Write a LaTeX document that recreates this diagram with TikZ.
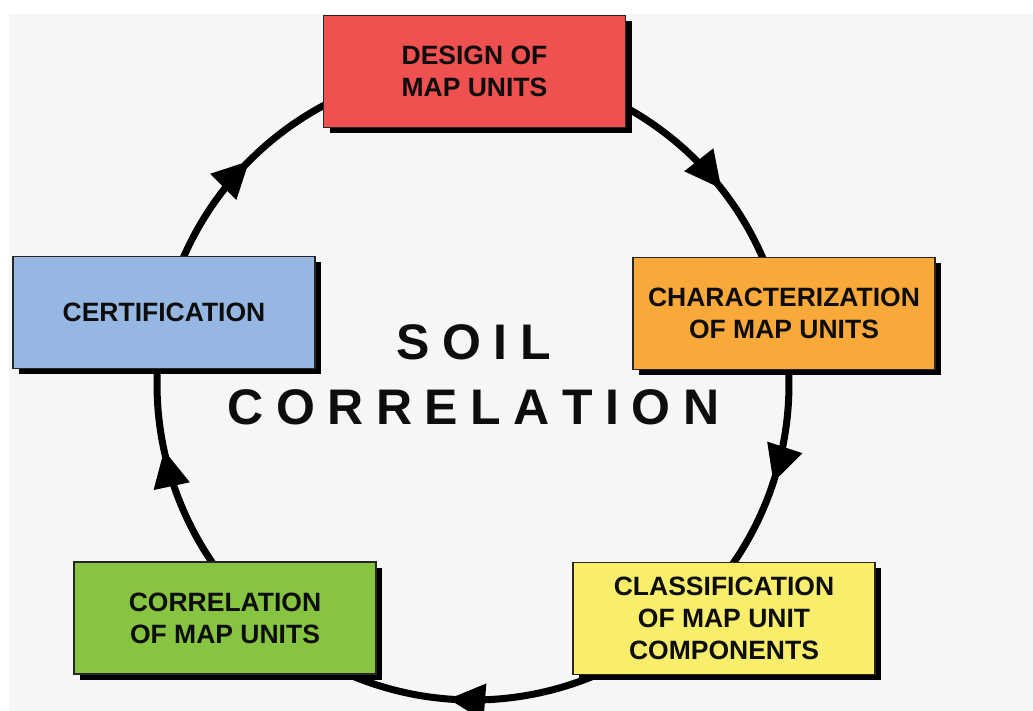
\documentclass[tikz,border=0pt]{standalone}
\usepackage{fontspec}
\setmainfont{Liberation Sans}
\usetikzlibrary{arrows.meta,shadows,decorations.markings}
\definecolor{bggray}{HTML}{F5F6F8}
\definecolor{boxred}{HTML}{EF5151}
\definecolor{boxorange}{HTML}{F9A93A}
\definecolor{boxblue}{HTML}{95B7E1}
\definecolor{boxyellow}{HTML}{F8EE6B}
\definecolor{boxgreen}{HTML}{87C441}
\tikzset{
  stagebox/.style={draw=black!85, line width=1.2pt, minimum width=302pt, minimum height=112pt,
    inner sep=0pt, align=center, text=black!95,
    font=\fontsize{26.5}{32}\selectfont\bfseries,
    general shadow={fill=black, shadow xshift=6pt, shadow yshift=-6pt}},
  cycleline/.style={line width=7pt, black},
  tipmark/.style={postaction={decorate}, decoration={markings,
    mark=at position #1 with {\arrow{Triangle[length=37pt,width=35pt]}}}},
  bigword/.style={anchor=base, font=\fontsize{50}{50}\selectfont\bfseries, text=black!95, inner sep=0pt}
}
\begin{document}
\begin{tikzpicture}[x=1pt,y=1pt]
\useasboundingbox (0,0) rectangle (1033,711);
\fill[white] (0,0) rectangle (1033,711);
\fill[bggray] (9,0) rectangle (1033,697);
\coordinate (c) at (473,327);
\path (c) ++(90:316pt) coordinate (pr)
      (c) ++(12.8:316pt) coordinate (po)
      (c) ++(-43:316pt) coordinate (py)
      (c) ++(223.3:316pt) coordinate (pg)
      (c) ++(167:316pt) coordinate (pb);
\draw[cycleline, tipmark=0.672] (pr) arc[start angle=90, end angle=12.8, radius=316pt];
\draw[cycleline, tipmark=0.555] (po) arc[start angle=12.8, end angle=-43, radius=316pt];
\draw[cycleline, tipmark=0.55] (py) arc[start angle=-43, end angle=-136.7, radius=316pt];
\draw[cycleline, tipmark=0.555] (pg) arc[start angle=223.3, end angle=167, radius=316pt];
\draw[cycleline, tipmark=0.415] (pb) arc[start angle=167, end angle=90, radius=316pt];
\node[stagebox, fill=boxred] (design) at (474.5,639.5) {DESIGN OF\\MAP UNITS};
\node[stagebox, fill=boxorange] (charac) at (784,397.5) {CHARACTERIZATION\\OF MAP UNITS};
\node[stagebox, fill=boxyellow] (classif) at (724,92.5) {CLASSIFICATION\\OF MAP UNIT\\COMPONENTS};
\node[stagebox, fill=boxgreen] (correl) at (225,93) {CORRELATION\\OF MAP UNITS};
\node[stagebox, fill=boxblue] (certif) at (164,398.5) {CERTIFICATION};
\node[bigword] (soil) at (473.5,351) {S\kern12.5pt O\kern12.5pt I\kern12.5pt L};
\node[bigword] (corr) at (473.5,286) {C\kern12.5pt O\kern12.5pt R\kern12.5pt R\kern12.5pt E\kern12.5pt L\kern12.5pt A\kern12.5pt T\kern12.5pt I\kern12.5pt O\kern12.5pt N};
\end{tikzpicture}
\end{document}
